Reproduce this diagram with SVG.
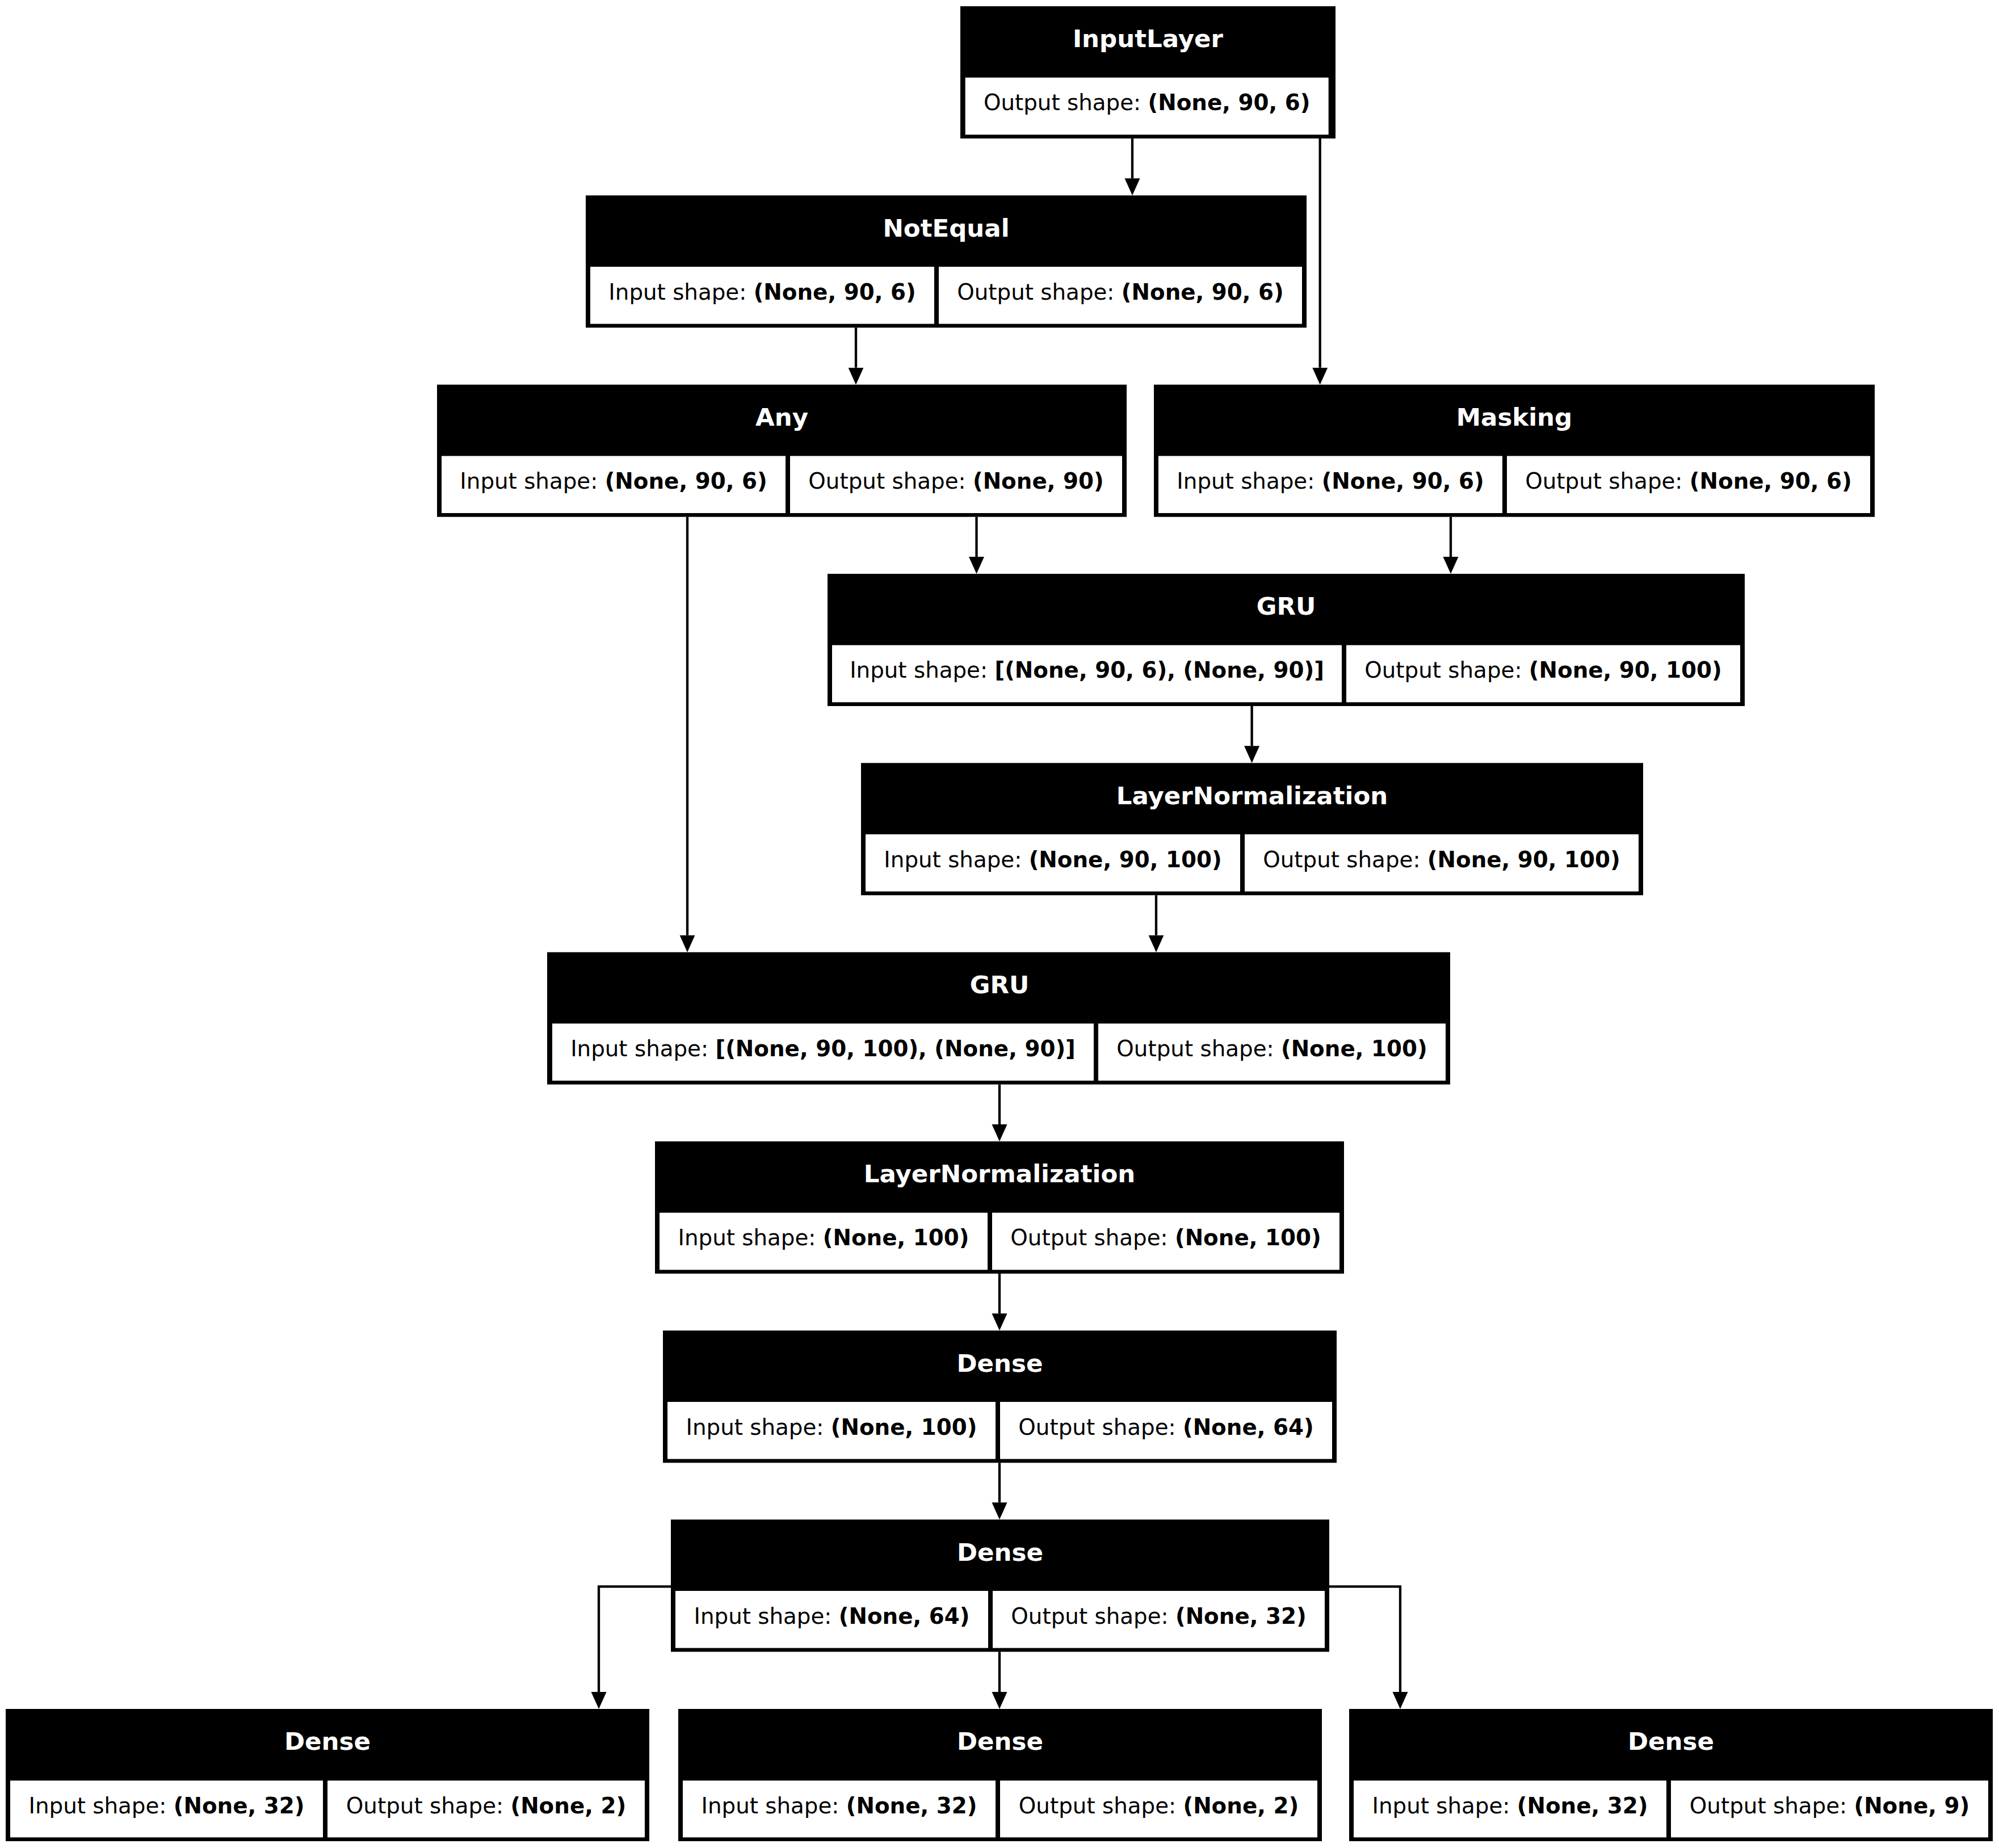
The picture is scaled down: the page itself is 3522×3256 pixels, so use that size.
<svg xmlns="http://www.w3.org/2000/svg" width="3522" height="3256" viewBox="0 0 3522 3256">
<style>
.box{fill:#000}
.cell{fill:#fff}
.hd{font-family:"DejaVu Sans",sans-serif;font-size:43.5px;font-weight:bold;fill:#fff;text-anchor:middle}
.tx{font-family:"DejaVu Sans",sans-serif;font-size:38.8px;fill:#000;text-anchor:middle}
.b{font-weight:bold}
.edge{fill:none;stroke:#000;stroke-width:4.3}
</style>
<defs>
<marker id="ah" markerUnits="userSpaceOnUse" markerWidth="31" markerHeight="28" refX="0" refY="13.5" orient="auto">
<path d="M0,0 L30,13.5 L0,27 z" fill="#000"/>
</marker>
</defs>
<rect width="3522" height="3256" fill="#fff"/>

<g id="node-inputlayer">
<rect class="box" x="1692" y="11" width="661" height="233"/>
<rect class="cell" x="1700.7" y="136.7" width="640" height="100.6"/>
<text class="hd" x="2022.5" y="83.3">InputLayer</text>
<text class="tx" x="2020.7" y="194.3">Output shape: <tspan class="b">(None, 90, 6)</tspan></text>
</g>

<g id="node-notequal">
<rect class="box" x="1032" y="344.3" width="1270" height="233"/>
<rect class="cell" x="1040" y="470" width="606" height="100.6"/>
<rect class="cell" x="1654" y="470" width="640" height="100.6"/>
<text class="hd" x="1667" y="416.6">NotEqual</text>
<text class="tx" x="1343" y="527.6">Input shape: <tspan class="b">(None, 90, 6)</tspan></text>
<text class="tx" x="1974" y="527.6">Output shape: <tspan class="b">(None, 90, 6)</tspan></text>
</g>

<g id="node-any">
<rect class="box" x="770" y="677.7" width="1215" height="233"/>
<rect class="cell" x="778" y="803.4" width="606" height="100.6"/>
<rect class="cell" x="1392" y="803.4" width="585" height="100.6"/>
<text class="hd" x="1377.5" y="750">Any</text>
<text class="tx" x="1081" y="861">Input shape: <tspan class="b">(None, 90, 6)</tspan></text>
<text class="tx" x="1684.5" y="861">Output shape: <tspan class="b">(None, 90)</tspan></text>
</g>

<g id="node-masking">
<rect class="box" x="2033" y="677.7" width="1270" height="233"/>
<rect class="cell" x="2041" y="803.4" width="606" height="100.6"/>
<rect class="cell" x="2655" y="803.4" width="640" height="100.6"/>
<text class="hd" x="2668" y="750">Masking</text>
<text class="tx" x="2344" y="861">Input shape: <tspan class="b">(None, 90, 6)</tspan></text>
<text class="tx" x="2975" y="861">Output shape: <tspan class="b">(None, 90, 6)</tspan></text>
</g>

<g id="node-gru1">
<rect class="box" x="1458" y="1011" width="1616" height="233"/>
<rect class="cell" x="1466" y="1136.7" width="898" height="100.6"/>
<rect class="cell" x="2372" y="1136.7" width="694" height="100.6"/>
<text class="hd" x="2266" y="1083.3">GRU</text>
<text class="tx" x="1915" y="1194.3">Input shape: <tspan class="b">[(None, 90, 6), (None, 90)]</tspan></text>
<text class="tx" x="2719" y="1194.3">Output shape: <tspan class="b">(None, 90, 100)</tspan></text>
</g>

<g id="node-layernorm1">
<rect class="box" x="1517" y="1344.3" width="1378" height="233"/>
<rect class="cell" x="1525" y="1470" width="660" height="100.6"/>
<rect class="cell" x="2193" y="1470" width="694" height="100.6"/>
<text class="hd" x="2206" y="1416.6">LayerNormalization</text>
<text class="tx" x="1855" y="1527.6">Input shape: <tspan class="b">(None, 90, 100)</tspan></text>
<text class="tx" x="2540" y="1527.6">Output shape: <tspan class="b">(None, 90, 100)</tspan></text>
</g>

<g id="node-gru2">
<rect class="box" x="964" y="1677.7" width="1591" height="233"/>
<rect class="cell" x="973" y="1803.4" width="954" height="100.6"/>
<rect class="cell" x="1935" y="1803.4" width="612" height="100.6"/>
<text class="hd" x="1761" y="1750">GRU</text>
<text class="tx" x="1450" y="1861">Input shape: <tspan class="b">[(None, 90, 100), (None, 90)]</tspan></text>
<text class="tx" x="2241" y="1861">Output shape: <tspan class="b">(None, 100)</tspan></text>
</g>

<g id="node-layernorm2">
<rect class="box" x="1154" y="2011" width="1214" height="233"/>
<rect class="cell" x="1162" y="2136.7" width="578" height="100.6"/>
<rect class="cell" x="1748" y="2136.7" width="612" height="100.6"/>
<text class="hd" x="1761" y="2083.3">LayerNormalization</text>
<text class="tx" x="1451" y="2194.3">Input shape: <tspan class="b">(None, 100)</tspan></text>
<text class="tx" x="2054" y="2194.3">Output shape: <tspan class="b">(None, 100)</tspan></text>
</g>

<g id="node-dense1">
<rect class="box" x="1168" y="2344.3" width="1187" height="233"/>
<rect class="cell" x="1176" y="2470" width="578" height="100.6"/>
<rect class="cell" x="1762" y="2470" width="585" height="100.6"/>
<text class="hd" x="1761.5" y="2416.6">Dense</text>
<text class="tx" x="1465" y="2527.6">Input shape: <tspan class="b">(None, 100)</tspan></text>
<text class="tx" x="2054.5" y="2527.6">Output shape: <tspan class="b">(None, 64)</tspan></text>
</g>

<g id="node-dense2">
<rect class="box" x="1182" y="2677.3" width="1160" height="233"/>
<rect class="cell" x="1190" y="2803" width="551" height="100.6"/>
<rect class="cell" x="1749" y="2803" width="585" height="100.6"/>
<text class="hd" x="1762" y="2749.6">Dense</text>
<text class="tx" x="1465.5" y="2860.6">Input shape: <tspan class="b">(None, 64)</tspan></text>
<text class="tx" x="2041.5" y="2860.6">Output shape: <tspan class="b">(None, 32)</tspan></text>
</g>

<g id="node-dense-a">
<rect class="box" x="10" y="3011" width="1134" height="233"/>
<rect class="cell" x="18" y="3137.2" width="551" height="100.1"/>
<rect class="cell" x="577" y="3137.2" width="559" height="100.1"/>
<text class="hd" x="577" y="3083.3">Dense</text>
<text class="tx" x="293.5" y="3194.8">Input shape: <tspan class="b">(None, 32)</tspan></text>
<text class="tx" x="856.5" y="3194.8">Output shape: <tspan class="b">(None, 2)</tspan></text>
</g>

<g id="node-dense-b">
<rect class="box" x="1195" y="3011" width="1134" height="233"/>
<rect class="cell" x="1203" y="3137.2" width="551" height="100.1"/>
<rect class="cell" x="1762" y="3137.2" width="559" height="100.1"/>
<text class="hd" x="1762" y="3083.3">Dense</text>
<text class="tx" x="1478.5" y="3194.8">Input shape: <tspan class="b">(None, 32)</tspan></text>
<text class="tx" x="2041.5" y="3194.8">Output shape: <tspan class="b">(None, 2)</tspan></text>
</g>

<g id="node-dense-c">
<rect class="box" x="2377" y="3011" width="1134" height="233"/>
<rect class="cell" x="2385" y="3137.2" width="551" height="100.1"/>
<rect class="cell" x="2944" y="3137.2" width="559" height="100.1"/>
<text class="hd" x="2944" y="3083.3">Dense</text>
<text class="tx" x="2660.5" y="3194.8">Input shape: <tspan class="b">(None, 32)</tspan></text>
<text class="tx" x="3223.5" y="3194.8">Output shape: <tspan class="b">(None, 9)</tspan></text>
</g>

<g id="connectors">
<path class="edge" marker-end="url(#ah)" d="M1995,244 V314.3"/>
<path class="edge" marker-end="url(#ah)" d="M2325.7,244 V647.7"/>
<path class="edge" marker-end="url(#ah)" d="M1508,577.3 V647.7"/>
<path class="edge" marker-end="url(#ah)" d="M1720.5,910.7 V981"/>
<path class="edge" marker-end="url(#ah)" d="M2556,910.7 V981"/>
<path class="edge" marker-end="url(#ah)" d="M1211,910.7 V1647.7"/>
<path class="edge" marker-end="url(#ah)" d="M2205.6,1244 V1314.3"/>
<path class="edge" marker-end="url(#ah)" d="M2037,1577.3 V1647.7"/>
<path class="edge" marker-end="url(#ah)" d="M1761,1910.7 V1981"/>
<path class="edge" marker-end="url(#ah)" d="M1761,2244 V2314.3"/>
<path class="edge" marker-end="url(#ah)" d="M1761,2577.3 V2647.3"/>
<path class="edge" marker-end="url(#ah)" d="M1761,2910.3 V2981"/>
<path class="edge" marker-end="url(#ah)" d="M1182,2795.4 H1055 V2981"/>
<path class="edge" marker-end="url(#ah)" d="M2342,2795.4 H2467 V2981"/>
</g>
</svg>
